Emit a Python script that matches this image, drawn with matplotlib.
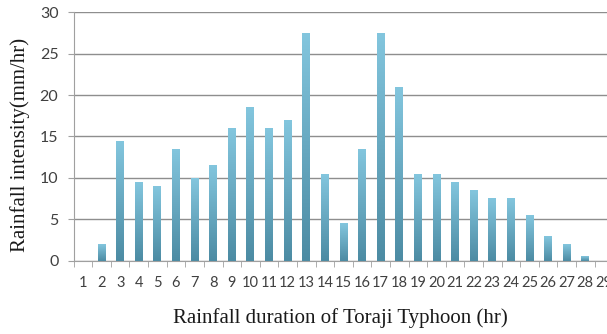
import matplotlib
matplotlib.use("Agg")
import matplotlib.pyplot as plt
from matplotlib.colors import LinearSegmentedColormap
import numpy as np

hours = list(range(1, 30))
intensity = [0, 2, 14.5, 9.5, 9, 13.5, 10, 11.5, 16, 18.5,
             16, 17, 27.5, 10.5, 4.5, 13.5, 27.5, 21, 10.5, 10.5,
             9.5, 8.5, 7.5, 7.5, 5.5, 3, 2, 0.5, 0]
yticks = [0, 5, 10, 15, 20, 25, 30]

fig = plt.figure(figsize=(6.07, 3.34), dpi=100)
ax = fig.add_axes([0.1214, 0.220, 0.8887, 0.743])

# vertical gradient for each bar, light at the top, darker at the base
cmap = LinearSegmentedColormap.from_list("bar", ["#4c8ba3", "#83c6de"])
grad = np.linspace(0, 1, 256).reshape(-1, 1)
width = 0.42
for h, v in zip(hours, intensity):
    if v <= 0:
        continue
    ax.imshow(grad, cmap=cmap, origin="lower", aspect="auto",
              extent=(h - width / 2, h + width / 2, 0, v), zorder=3)

ax.set_xlim(0.5, 29.5)
ax.set_ylim(0, 30)
ax.set_yticks(yticks)
ax.set_xticks(hours)
ax.set_xticklabels([str(h) for h in hours], family="Lato", fontsize=10.5,
                   color="#404040")
ax.set_yticklabels([str(t) for t in yticks], family="Lato", fontsize=11.5,
                   color="#404040")
ax.set_xticks(np.arange(0.5, 30, 1), minor=True)
ax.tick_params(axis="x", which="major", length=0, pad=11)
ax.tick_params(axis="x", which="minor", length=4, color="#a0a0a0")
ax.tick_params(axis="y", length=4, color="#a0a0a0", pad=7)

ax.grid(axis="y", color="#8e8e8e", linewidth=1.0, zorder=0)
for s in ["top", "right"]:
    ax.spines[s].set_visible(False)
for s in ["left", "bottom"]:
    ax.spines[s].set_color("#a0a0a0")

fig.text(0.56, 0.047, "Rainfall duration of Toraji Typhoon (hr)",
         family="Liberation Serif", fontsize=15, ha="center", va="center",
         color="#1a1a1a")
fig.text(0.033, 0.565, "Rainfall intensity(mm/hr)", family="Liberation Serif",
         fontsize=15, rotation=90, ha="center", va="center", color="#1a1a1a")

fig.savefig("out.png", dpi=100)
